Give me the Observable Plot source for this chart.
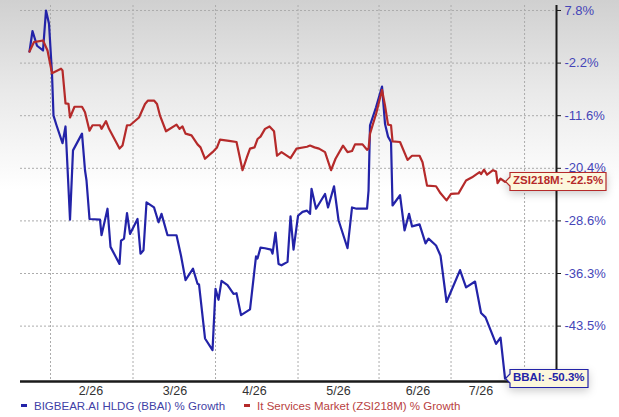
<!DOCTYPE html>
<html>
<head>
<meta charset="utf-8">
<script src="https://cdn.jsdelivr.net/npm/d3@7"></script>
<script src="https://cdn.jsdelivr.net/npm/@observablehq/plot@0.6"></script>
<style>
  html, body { margin: 0; padding: 0; }
  body {
    width: 619px; height: 417px; overflow: hidden; position: relative;
    background: linear-gradient(to bottom, #d0d0d0 0px, #e9e9e9 90px, #ffffff 190px);
    font-family: "Liberation Sans", Arial, sans-serif;
  }
  #chart svg { display: block; overflow: visible; }
  .legend { position: absolute; top: 400px; left: 21px; font-size: 11.5px; white-space: nowrap; }
  .legend span.item { display: inline-block; margin-right: 19px; }
  .legend span.sw { display: inline-block; width: 6px; height: 3px; vertical-align: middle; margin-right: 7px; position: relative; top: -1px; }
</style>
</head>
<body>
<div id="chart"></div>
<div class="legend" id="legend"></div>
<script>
// ---- data ----
const seriesNames = ["BIGBEAR.AI HLDG (BBAI) % Growth", "It Services Market (ZSI218M) % Growth"];
const seriesShort = ["BBAI", "ZSI218M"];
const seriesColors = ["#2323a8", "#b52a2a"];
const legendColors = ["#3f3fa6", "#b94242"];

// trading-day index (t) and % growth
const bbaiT = [0,2,5,9,11,13,15,16,18,22,24,25,27,29,35,37,38,40,47,48,52,54,60,61,63,65,67,72,74,76,78,83,86,88,92,98,101,104,109,112,113,117,122,124,126,128,132,136,138,141,147,151,152,154,157,161,162,164,166,168,172,174,176,179,182,185,187,188,191,197,199,203,206,212,215,218,225,226,227,231,235,237,239,241,242,247,250,253,255,260,264,266,271,274,278,287,291,297,301,304,311,314,317];
const bbaiV = [0.0,3.9,1.1,0.2,7.8,5.3,-4.1,-11.6,-13.2,-16.2,-13.4,-18.5,-28.4,-17.4,-14.6,-20.7,-22.3,-28.3,-28.4,-30.7,-26.7,-32.4,-34.9,-31.5,-31.2,-27.4,-30.5,-28.3,-33.4,-32.9,-25.7,-26.5,-28.8,-27.5,-30.7,-30.7,-33.7,-37.2,-35.6,-37.7,-37.8,-45.1,-46.6,-38.4,-39.9,-37.3,-37.9,-39.1,-39.0,-42.0,-41.2,-33.8,-34.1,-32.5,-32.6,-32.8,-33.4,-30.3,-34.9,-35.1,-34.6,-27.9,-32.8,-27.8,-27.2,-27.0,-27.5,-23.6,-26.7,-24.4,-26.5,-23.2,-28.5,-32.6,-26.5,-26.7,-26.7,-23.9,-13.2,-10.1,-6.4,-13.0,-15.1,-16.0,-26.2,-24.6,-30.0,-27.5,-29.4,-29.1,-31.9,-31.2,-32.2,-33.7,-40.2,-35.8,-38.2,-37.4,-41.7,-42.3,-45.8,-45.0,-50.3];

const zsiT = [0,3,9,12,15,21,22,24,26,27,30,35,37,40,42,47,48,51,53,60,62,65,67,73,77,79,83,85,87,91,98,100,102,104,108,112,114,117,122,125,127,133,138,142,145,147,150,152,154,157,160,163,165,168,174,178,185,187,190,193,197,201,204,209,212,215,217,222,225,226,227,231,235,237,239,241,242,247,252,255,260,262,265,271,274,278,281,286,291,295,300,301,303,305,309,311,312,314,317];
const zsiV = [0.0,1.8,2.1,0.2,-4.0,-3.2,-3.5,-9.4,-9.5,-11.9,-10.0,-10.0,-11.0,-14.1,-13.2,-13.2,-13.8,-12.5,-13.8,-17.1,-16.6,-13.2,-13.2,-11.9,-9.5,-8.9,-8.9,-9.5,-11.6,-14.2,-13.1,-13.8,-13.4,-14.6,-14.9,-16.4,-16.9,-18.8,-17.7,-16.9,-15.6,-15.8,-16.0,-20.7,-18.5,-17.1,-16.9,-15.5,-15.1,-13.8,-13.4,-14.2,-18.3,-17.7,-18.7,-17.1,-16.8,-16.6,-16.9,-17.1,-17.7,-20.7,-18.8,-16.6,-17.7,-17.5,-16.4,-16.4,-17.3,-17.1,-14.6,-11.3,-7.0,-9.8,-13.1,-13.2,-15.9,-16.0,-19.0,-18.3,-18.3,-19.4,-23.1,-23.2,-24.3,-25.4,-24.4,-24.3,-22.3,-21.8,-21.0,-21.3,-20.6,-21.4,-20.7,-20.9,-22.7,-22.0,-22.5];

// axis ticks
const yTickValues = [7.8, -2.2, -11.6, -20.4, -28.6, -36.3, -43.5, -50.3];
const yTickLabels = ["7.8%", "-2.2%", "-11.6%", "-20.4%", "-28.6%", "-36.3%", "-43.5%", "-50.3%"];
const yLabelCount = 7;
const monthGridT = [14, 69, 124, 179, 233, 281, 330];
const monthLabelT = [41, 97, 150, 206, 259, 301];
const monthLabels = ["2/26", "3/26", "4/26", "5/26", "6/26", "7/26"];
const xDomain = [-6, 351.3];

// ---- build ----
const bbai = bbaiT.map((t, i) => ({t, v: bbaiV[i]}));
const zsi = zsiT.map((t, i) => ({t, v: zsiV[i]}));
// the chart's value axis has evenly spaced, unevenly valued ticks: piecewise scale position
const toIdx = d3.scaleLinear().domain(yTickValues).range(yTickValues.map((_, i) => i));
const yIdxDomain = [7.053, -0.095];
const gridIdx = d3.range(yLabelCount);
const lastB = bbai[bbai.length - 1];
const lastZ = zsi[zsi.length - 1];

const chart = Plot.plot({
  width: 619,
  height: 397,
  marginLeft: 20,
  marginRight: 63,
  marginTop: 5,
  marginBottom: 16,
  style: {background: "transparent", fontFamily: "'Liberation Sans', Arial, sans-serif", overflow: "visible"},
  x: {type: "linear", domain: xDomain},
  y: {type: "linear", domain: yIdxDomain},
  marks: [
    Plot.ruleY(gridIdx, {y: d => d, stroke: "#acacac", strokeWidth: 1, strokeDasharray: "2,2"}),
    Plot.ruleX(monthGridT, {x: d => d, stroke: "#acacac", strokeWidth: 1, strokeDasharray: "2,2"}),
    Plot.line(bbai, {x: "t", y: d => toIdx(d.v), stroke: seriesColors[0], strokeWidth: 2.2, strokeLinejoin: "round"}),
    Plot.line(zsi, {x: "t", y: d => toIdx(d.v), stroke: seriesColors[1], strokeWidth: 2.2, strokeLinejoin: "round"}),
    Plot.ruleX([xDomain[1]], {stroke: "#1a1a1a", strokeWidth: 2}),
    Plot.ruleY([yIdxDomain[0]], {stroke: "#1a1a1a", strokeWidth: 2.5}),
    Plot.axisY({anchor: "right", ticks: gridIdx, tickFormat: i => yTickLabels[i], tickSize: 4, tickPadding: 4,
      stroke: "#1a1a1a", fill: "#4545b8", fontSize: 13, label: null}),
    Plot.axisX({anchor: "bottom", ticks: monthLabelT, tickFormat: t => monthLabels[monthLabelT.indexOf(t)], tickSize: 0, tickPadding: 5,
      fill: "#333333", fontSize: 12.5, label: null}),
    Plot.tip([lastZ], {x: "t", y: d => toIdx(d.v), title: d => `${seriesShort[1]}: ${d.v}%`, anchor: "left",
      fill: "#fcf7dc", stroke: seriesColors[1], strokeWidth: 1.2, fontSize: 11.5, fontWeight: "bold", textPadding: 3, pointerSize: 9}),
    Plot.tip([lastB], {x: "t", y: d => toIdx(d.v), title: d => `${seriesShort[0]}: ${d.v}%`, anchor: "left",
      fill: "#fcf7dc", stroke: seriesColors[0], strokeWidth: 1.2, fontSize: 11.5, fontWeight: "bold", textPadding: 3, pointerSize: 9})
  ]
});
document.getElementById("chart").appendChild(chart);

// colour tip texts like their series
const tipColors = [seriesColors[1], seriesColors[0]];
d3.select(chart).selectAll('g[aria-label="tip"]').each(function(_, i) {
  d3.select(this).selectAll("text, tspan").attr("fill", tipColors[i]).style("fill", tipColors[i]).style("font-weight", "bold");
});

// legend
const legend = document.getElementById("legend");
seriesNames.forEach((name, i) => {
  const item = document.createElement("span");
  item.className = "item";
  item.style.color = legendColors[i];
  const sw = document.createElement("span");
  sw.className = "sw";
  sw.style.background = seriesColors[i];
  item.appendChild(sw);
  item.appendChild(document.createTextNode(name));
  legend.appendChild(item);
});
</script>
</body>
</html>
